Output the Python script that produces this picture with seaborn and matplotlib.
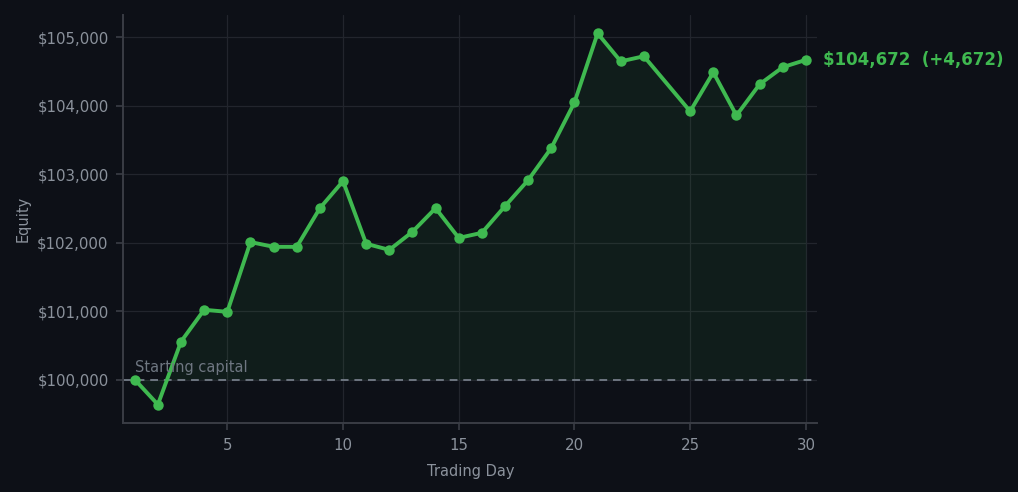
"""
Equity curve for a 30-day paper-trading run, dark theme.
"""

import matplotlib
matplotlib.use("Agg")
import matplotlib.pyplot as plt
import matplotlib.ticker as mticker
import pandas as pd
import seaborn as sns

# ---------------------------------------------------------------------------
# Data (day 24 has no record)
# ---------------------------------------------------------------------------
days = [1, 2, 3, 4, 5, 6, 7, 8, 9, 10,
        11, 12, 13, 14, 15, 16, 17, 18, 19, 20,
        21, 22, 23, 25, 26, 27, 28, 29, 30]
equity = [100000, 99635, 100555, 101020, 100990, 102010, 101940, 101940, 102505, 102900,
          101985, 101895, 102160, 102505, 102070, 102145, 102535, 102915, 103385, 104050,
          105060, 104650, 104725, 103920, 104490, 103860, 104315, 104565, 104672]
START_CAPITAL = 100000

# ---------------------------------------------------------------------------
# Style
# ---------------------------------------------------------------------------
BG      = "#0d1017"
GRID    = "#22252d"
SPINE   = "#3a3d45"
TEXT    = "#8b929c"
MUTED   = "#6e7681"
GREEN   = "#3fb950"

sns.set_style("dark", {
    "axes.facecolor": BG,
    "figure.facecolor": BG,
    "grid.color": GRID,
    "axes.edgecolor": SPINE,
})
plt.rcParams["font.family"] = ["DejaVu Sans"]

df = pd.DataFrame({"Trading Day": days, "Equity": equity})

fig, ax = plt.subplots(figsize=(10.18, 4.92), dpi=100)
fig.subplots_adjust(left=0.121, right=0.803, bottom=0.140, top=0.970)

ax.grid(True, color=GRID, linewidth=0.9)
ax.fill_between(df["Trading Day"], df["Equity"], START_CAPITAL,
                color=GREEN, alpha=0.08, linewidth=0, zorder=1)
ax.axhline(START_CAPITAL, color=MUTED, linestyle=(0, (4, 3)), linewidth=1.4, zorder=2)

sns.lineplot(data=df, x="Trading Day", y="Equity", ax=ax, color=GREEN,
             linewidth=2.8, marker="o", markersize=7.5, markeredgewidth=0, zorder=3)

ax.text(1.0, START_CAPITAL + 60, "Starting capital", color=MUTED, fontsize=10.5,
        ha="left", va="bottom")

last = equity[-1]
ax.annotate(f"${last:,.0f}  ({last - START_CAPITAL:+,.0f})",
            xy=(days[-1], last), xytext=(12.5, 0), textcoords="offset points",
            color=GREEN, fontsize=12, fontweight="bold", va="center", ha="left",
            annotation_clip=False)

ax.set_xlim(0.5, 30.5)
ax.yaxis.set_major_formatter(mticker.StrMethodFormatter("${x:,.0f}"))
ax.yaxis.set_major_locator(mticker.MultipleLocator(1000))
ax.xaxis.set_major_locator(mticker.MultipleLocator(5))

ax.tick_params(colors=SPINE, labelcolor=TEXT, labelsize=10.8, length=5, width=1.2,
               pad=5.5, left=True, bottom=True)
ax.set_xlabel("Trading Day", color=TEXT, fontsize=10.5, labelpad=8)
ax.set_ylabel("Equity", color=TEXT, fontsize=10.5, labelpad=4.5)

for side in ["top", "right"]:
    ax.spines[side].set_visible(False)
for side in ["left", "bottom"]:
    ax.spines[side].set_color(SPINE)
    ax.spines[side].set_linewidth(1.4)

plt.savefig("out.png", dpi=100, facecolor=BG)
